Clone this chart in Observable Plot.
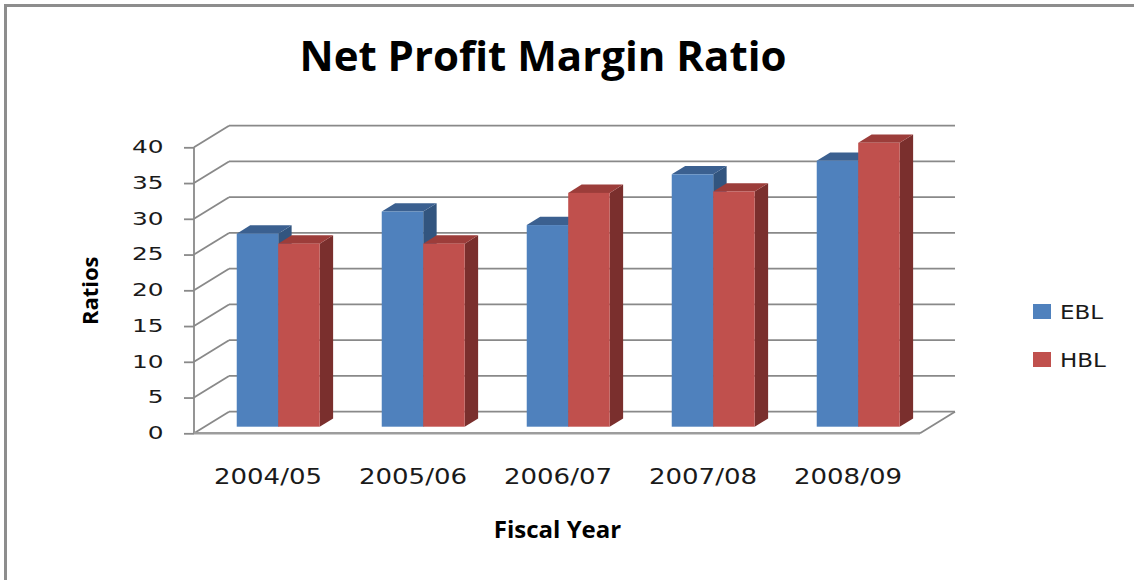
<!DOCTYPE html>
<html>
<head>
<meta charset="utf-8">
<script src="https://cdn.jsdelivr.net/npm/d3@7"></script>
<script src="https://cdn.jsdelivr.net/npm/@observablehq/plot@0.6"></script>
<style>
  body { margin: 0; background: #fff; }
  #wrap { position: relative; width: 1134px; height: 580px; overflow: hidden; background: #fff; }
  #frame { position: absolute; left: 4px; top: 4px; width: 1150px; height: 600px;
           border-left: 3px solid #8d8d8d; border-top: 3px solid #8d8d8d; box-sizing: border-box; }
  #head { position: relative; height: 110px; }
  #title { position: absolute; left: 0; top: 34px; width: 1086px; text-align: center;
           font-family: "Open Sans"; font-weight: 700; font-size: 42px; line-height: 42px; color: #000; }
  #chart svg { display: block; }
  .sw { position: absolute; width: 18px; height: 15px; }
  .lt { position: absolute; font-family: "DejaVu Sans"; font-size: 20px; line-height: 20px; color: #1a1a1a;
        transform: scaleX(1.15); transform-origin: left center; }
</style>
</head>
<body>
<div id="wrap">
  <div id="frame"></div>
  <div id="head"><div id="title">Net Profit Margin Ratio</div></div>
  <div id="chart"></div>
  <div class="sw" style="left:1033px; top:304px; background:#4F81BD"></div>
  <div class="lt" style="left:1060px; top:302px">EBL</div>
  <div class="sw" style="left:1033px; top:352px; background:#C0504D"></div>
  <div class="lt" style="left:1060px; top:350px">HBL</div>
</div>
<script>
// ---- data ----
const years = ["2004/05", "2005/06", "2006/07", "2007/08", "2008/09"];
const series = ["EBL", "HBL"];
const ebl = [27.0, 30.1, 28.2, 35.3, 37.2];
const hbl = [25.6, 25.6, 32.7, 32.9, 39.7];
const yTicks = [0, 5, 10, 15, 20, 25, 30, 35, 40];

const frontColors = {EBL: "#4F81BD", HBL: "#C0504D"};
const topColors = {EBL: "#3b6090", HBL: "#9c3d3a"};
const sideColors = {EBL: "#32557f", HBL: "#7a2f2d"};

const rows = years.flatMap((year, i) => [
  {year, bank: "EBL", value: ebl[i]},
  {year, bank: "HBL", value: hbl[i]}
]);

// 3D depth (pixel offset of back wall relative to the front plane)
const DX = 35, DY = 21.6;
const F0 = 0.306, F1 = 0.69;   // bar front / back depth fraction
const BAR = 0.286;             // bar width as fraction of band
const GRID = "#898989";

function bandwidthOf(x) {
  return typeof x.bandwidth === "function" ? x.bandwidth() : (x(years[1]) - x(years[0]));
}

function walls(index, scales, values, dims) {
  const {y} = scales;
  const x0 = dims.marginLeft, x1 = dims.width - dims.marginRight;
  const g = d3.create("svg:g").attr("aria-label", "walls")
    .attr("stroke", GRID).attr("stroke-width", 1.8).attr("fill", "none");
  for (const v of yTicks) {
    g.append("line").attr("x1", x0 + DX).attr("y1", y(v) - DY).attr("x2", x1 + DX).attr("y2", y(v) - DY);
    g.append("line").attr("x1", x0).attr("y1", y(v)).attr("x2", x0 + DX).attr("y2", y(v) - DY);
  }
  const top = yTicks[yTicks.length - 1];
  g.append("line").attr("x1", x0).attr("y1", y(0)).attr("x2", x0).attr("y2", y(top));
  g.append("line").attr("x1", x0).attr("y1", y(0)).attr("x2", x1).attr("y2", y(0))
    .attr("stroke", "#9d9d9d").attr("stroke-width", 2.6);
  g.append("line").attr("x1", x1).attr("y1", y(0)).attr("x2", x1 + DX).attr("y2", y(0) - DY);
  return g.node();
}

function bars3d(index, scales, values, dims) {
  const {x, y} = scales;
  const bw = bandwidthOf(x);
  const w = bw * BAR;
  const ox = F0 * DX, oy = F0 * DY;
  const dd = (F1 - F0) * DX, ddy = (F1 - F0) * DY;
  const g = d3.create("svg:g").attr("aria-label", "bars");
  for (const r of rows) {
    const j = series.indexOf(r.bank);
    const xl = x(r.year) + bw * (0.5 - BAR) + j * w + ox;
    const xr = xl + w;
    const yt = y(r.value) - oy;
    const yb = y(0) - oy;
    g.append("polygon")
      .attr("points", [[xr, yt], [xr + dd, yt - ddy], [xr + dd, yb - ddy], [xr, yb]].join(" "))
      .attr("fill", sideColors[r.bank]);
    g.append("polygon")
      .attr("points", [[xl, yt], [xl + dd, yt - ddy], [xr + dd, yt - ddy], [xr, yt]].join(" "))
      .attr("fill", topColors[r.bank]);
    g.append("rect")
      .attr("x", xl).attr("y", yt).attr("width", w).attr("height", yb - yt)
      .attr("fill", frontColors[r.bank]);
  }
  return g.node();
}

const chart = Plot.plot({
  width: 1134,
  height: 470,
  marginLeft: 194,
  marginRight: 214,
  marginTop: 37.3,
  marginBottom: 146.7,
  style: {fontFamily: "DejaVu Sans", fontSize: "17px", background: "transparent", color: "#1a1a1a", overflow: "visible"},
  x: {type: "band", domain: years, padding: 0},
  y: {domain: [0, 40]},
  marks: [
    walls,
    Plot.axisY(yTicks, {tickSize: 10, tickPadding: 21, stroke: GRID, strokeWidth: 1.8, fill: "#1a1a1a", fontSize: 17, label: null}),
    Plot.axisX(years, {tickSize: 0, tickPadding: 35, fontSize: 21, fill: "#1a1a1a", label: null}),
    bars3d,
    Plot.text(["Fiscal Year"], {text: d => d, frameAnchor: "bottom", dy: 97, lineAnchor: "middle", textAnchor: "middle",
      fontWeight: 700, fontSize: 24, fontFamily: "Open Sans", fill: "#000"}),
    Plot.text(["Ratios"], {text: d => d, frameAnchor: "left", dx: -104, rotate: -90, lineAnchor: "middle", textAnchor: "middle",
      fontWeight: 700, fontSize: 22, fontFamily: "Open Sans", fill: "#000"})
  ]
});

// widen tick label glyphs horizontally (the reference text is stretched)
function stretch(root, selector, k) {
  root.querySelectorAll(selector).forEach(t => {
    const tr = t.getAttribute("transform") || "";
    t.setAttribute("transform", `${tr} scale(${k},1)`);
  });
}
stretch(chart, '[aria-label="y-axis tick label"] text', 1.46);
stretch(chart, '[aria-label="x-axis tick label"] text', 1.24);

document.getElementById("chart").appendChild(chart);
</script>
</body>
</html>
